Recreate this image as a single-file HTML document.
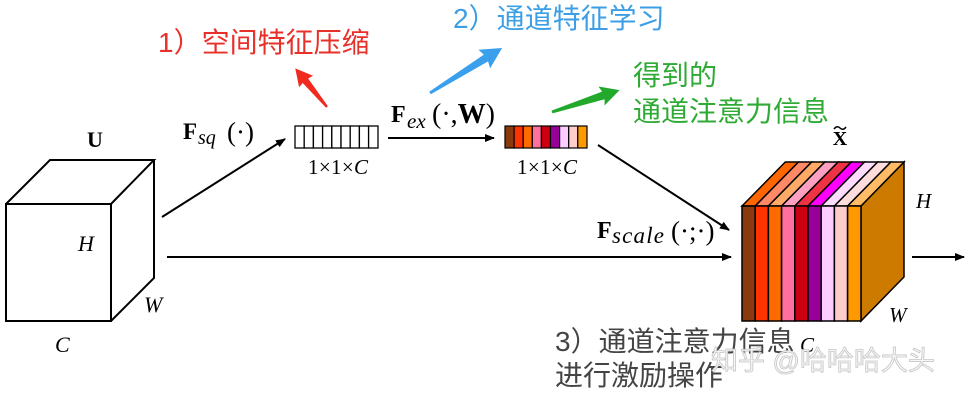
<!DOCTYPE html>
<html><head><meta charset="utf-8"><style>
html,body{margin:0;padding:0;background:#fff;}
svg{display:block;}
.s{font-family:"Liberation Serif",serif;}
.c{font-family:"Liberation Sans","Noto Sans CJK SC",sans-serif;}
</style></head><body>
<svg width="973" height="400" viewBox="0 0 973 400" xmlns="http://www.w3.org/2000/svg">
<defs>
<marker id="ah" markerWidth="10" markerHeight="8" refX="9" refY="4" orient="auto" markerUnits="userSpaceOnUse">
<path d="M0,0 L10,4 L0,8 z" fill="#000"/>
</marker>
</defs>
<rect width="973" height="400" fill="#fff"/>

<!-- Cube U -->
<g fill="none" stroke="#000" stroke-width="2" stroke-linejoin="miter">
<rect x="6" y="204" width="105" height="117"/>
<path d="M6,204 L50,160 L154,160 L111,204"/>
<path d="M111,321 L154,278 L154,160"/>
</g>
<text class="s" x="95" y="147" font-size="22" font-weight="bold" text-anchor="middle">U</text>
<text class="s" x="78" y="251" font-size="22" font-style="italic">H</text>
<text class="s" x="144" y="312" font-size="22" font-style="italic">W</text>
<text class="s" x="55" y="352" font-size="22" font-style="italic">C</text>

<!-- arrows -->
<g stroke="#000" stroke-width="2" fill="none">
<line x1="162" y1="217" x2="285" y2="139" marker-end="url(#ah)"/>
<line x1="167" y1="257" x2="731" y2="257" marker-end="url(#ah)"/>
<line x1="388" y1="138" x2="494" y2="138" marker-end="url(#ah)"/>
<line x1="598" y1="145" x2="729" y2="230" marker-end="url(#ah)"/>
<line x1="912" y1="257" x2="964" y2="257" marker-end="url(#ah)"/>
</g>

<!-- Fsq -->
<text class="s" x="183" y="139" font-size="23" font-weight="bold">F</text>
<text class="s" x="198" y="144" font-size="20" font-style="italic">sq</text>
<text class="s" x="227" y="141" font-size="27">(·)</text>

<!-- empty bar -->
<g fill="#fff" stroke="#000" stroke-width="1.3">
<rect x="295" y="126" width="9.2" height="22"/><rect x="304.2" y="126" width="9.2" height="22"/><rect x="313.4" y="126" width="9.2" height="22"/><rect x="322.6" y="126" width="9.2" height="22"/><rect x="331.8" y="126" width="9.2" height="22"/><rect x="341" y="126" width="9.2" height="22"/><rect x="350.2" y="126" width="9.2" height="22"/><rect x="359.4" y="126" width="9.2" height="22"/><rect x="368.6" y="126" width="9.4" height="22"/>
</g>
<text class="s" x="308" y="174" font-size="21" textLength="60">1×1×<tspan font-style="italic">C</tspan></text>

<!-- Fex -->
<text class="s" x="391" y="122" font-size="24" font-weight="bold">F</text>
<text class="s" x="407" y="128" font-size="21" font-style="italic">ex</text>
<text class="s" x="432" y="123" font-size="28">(·,<tspan font-weight="bold">W</tspan>)</text>

<!-- colored bar -->
<g stroke="#000" stroke-width="1.2">
<rect x="505" y="126" width="9.1" height="22" fill="#8B3A0E"/>
<rect x="514.1" y="126" width="9.1" height="22" fill="#FF3300"/>
<rect x="523.2" y="126" width="9.1" height="22" fill="#FF6A00"/>
<rect x="532.3" y="126" width="9.1" height="22" fill="#FF6FA0"/>
<rect x="541.4" y="126" width="9.1" height="22" fill="#CC0011"/>
<rect x="550.5" y="126" width="9.1" height="22" fill="#990099"/>
<rect x="559.6" y="126" width="9.1" height="22" fill="#FFCCFF"/>
<rect x="568.7" y="126" width="9.1" height="22" fill="#FFCCCC"/>
<rect x="577.8" y="126" width="9.2" height="22" fill="#FF9900"/>
</g>
<text class="s" x="517" y="174" font-size="21" textLength="60">1×1×<tspan font-style="italic">C</tspan></text>

<!-- Fscale -->
<text class="s" x="597" y="238" font-size="24" font-weight="bold">F</text>
<text class="s" x="612" y="243" font-size="23" font-style="italic" textLength="52">scale</text>
<text class="s" x="671" y="240" font-size="27">(·;·)</text>

<!-- Cube X -->
<g stroke="#000" stroke-width="1.5" stroke-linejoin="miter">
<polygon points="861,206 904,162 904,277 861,321" fill="#CC7A00"/>
<polygon points="742,206 785.3,162 798.5,162 755.2,206" fill="#FF6600"/>
<polygon points="755.2,206 798.5,162 811.7,162 768.4,206" fill="#FF8866"/>
<polygon points="768.4,206 811.7,162 824.9,162 781.6,206" fill="#FFAA66"/>
<polygon points="781.6,206 824.9,162 838.1,162 794.8,206" fill="#FFA0C0"/>
<polygon points="794.8,206 838.1,162 851.3,162 808,206" fill="#EE3344"/>
<polygon points="808,206 851.3,162 864.5,162 821.2,206" fill="#FF00FF"/>
<polygon points="821.2,206 864.5,162 877.7,162 834.4,206" fill="#FFDDFF"/>
<polygon points="834.4,206 877.7,162 890.9,162 847.6,206" fill="#FFDDDD"/>
<polygon points="847.6,206 890.9,162 904,162 861,206" fill="#FFBB66"/>
<rect x="742" y="206" width="13.2" height="115" fill="#8B3A0E"/>
<rect x="755.2" y="206" width="13.2" height="115" fill="#FF3300"/>
<rect x="768.4" y="206" width="13.2" height="115" fill="#FF6A00"/>
<rect x="781.6" y="206" width="13.2" height="115" fill="#FF6FA0"/>
<rect x="794.8" y="206" width="13.2" height="115" fill="#CC0011"/>
<rect x="808" y="206" width="13.2" height="115" fill="#990099"/>
<rect x="821.2" y="206" width="13.2" height="115" fill="#FFCCFF"/>
<rect x="834.4" y="206" width="13.2" height="115" fill="#FFCCCC"/>
<rect x="847.6" y="206" width="13.4" height="115" fill="#FF9900"/>
</g>
<text class="s" x="840" y="145" font-size="20" font-weight="bold" text-anchor="middle">X</text>
<path d="M834,129 Q837,125 840,128 Q843,131 846,127" fill="none" stroke="#000" stroke-width="1.5"/>
<text class="s" x="916" y="208" font-size="21" font-style="italic">H</text>
<text class="s" x="889" y="322" font-size="21" font-style="italic">W</text>
<text class="s" x="800" y="352" font-size="21" font-style="italic">C</text>

<!-- colored tapered arrows -->
<g transform="translate(327,107) rotate(-129.4)">
<polygon points="0,-1.2 34,-3.5 33,-9 50,0 33,9 34,3.5 0,1.2" fill="#F02A1E"/>
</g>
<g transform="translate(430,93) rotate(-32)">
<polygon points="0,-1.5 66,-4 64,-11 85,0 64,11 66,4 0,1.5" fill="#3AA0EC"/>
</g>
<g transform="translate(552,112) rotate(-17.9)">
<polygon points="0,-1.5 54,-4 52,-10 71,0 52,10 54,4 0,1.5" fill="#22A82A"/>
</g>

<!-- Chinese labels -->
<text class="c" x="158" y="52" font-size="28" fill="#E8302A">1）空间特征压缩</text>
<text class="c" x="453" y="28" font-size="28" fill="#3C9FE6">2）通道特征学习</text>
<text class="c" x="633" y="85" font-size="28" fill="#2FAA35">得到的</text>
<text class="c" x="633" y="121" font-size="28" fill="#2FAA35">通道注意力信息</text>
<text class="c" x="555" y="351" font-size="28" fill="#444">3）通道注意力信息</text>
<text class="c" x="555" y="385" font-size="28" fill="#444">进行激励操作</text>

<!-- watermark -->
<text class="c" x="711" y="370" font-size="27" fill="#f6f6f6" stroke="#c4c4c4" stroke-width="0.8" opacity="0.95">知乎 @哈哈哈大头</text>
</svg>
</body></html>
